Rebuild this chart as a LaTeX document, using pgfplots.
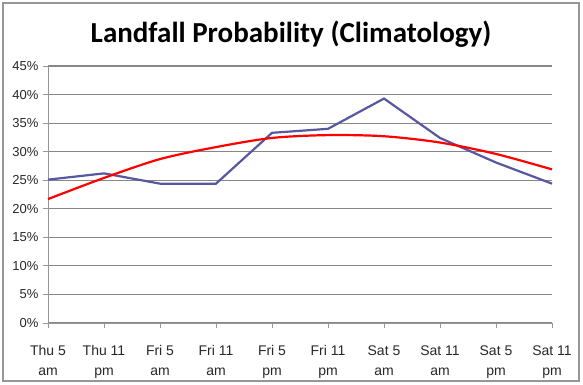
\documentclass[border=0pt]{standalone}
\usepackage{pgfplots}
\pgfplotsset{compat=1.18}
\usepackage{fontspec}
\setmainfont{Liberation Sans}
\newfontfamily\titlefont{Carlito}
\definecolor{blueline}{RGB}{88,88,160}
\definecolor{gridgray}{RGB}{135,135,135}
\definecolor{axisgray}{RGB}{150,150,150}
\definecolor{labelgray}{RGB}{40,40,40}
\begin{document}
\begin{tikzpicture}[x=1bp,y=1bp]
\fill[white] (0,0) rectangle (583,384);
\draw[axisgray, line width=1.2bp] (3,3) rectangle (579,381);
\node[font=\titlefont\bfseries\fontsize{29bp}{33bp}\selectfont] at (291,350) {Landfall Probability (Climatology)};
\begin{axis}[
  at={(48bp,61bp)}, anchor=south west,
  scale only axis, width=504bp, height=257bp,
  xmin=0, xmax=9, ymin=0, ymax=45,
  axis x line=bottom, axis y line=left,
  axis line style={axisgray, line width=1bp, -},
  xtick={0,...,9},
  xticklabels={{Thu 5\\am},{Thu 11\\pm},{Fri 5\\am},{Fri 11\\am},{Fri 5\\pm},{Fri 11\\pm},{Sat 5\\am},{Sat 11\\am},{Sat 5\\pm},{Sat 11\\pm}},
  xticklabel style={align=center, font=\fontsize{14bp}{20bp}\selectfont, text=labelgray, yshift=-14bp},
  ytick={0,5,...,45},
  yticklabel={\pgfmathprintnumber{\tick}\%},
  yticklabel style={font=\fontsize{13bp}{15bp}\selectfont, text=labelgray, xshift=-1bp},
  /pgf/number format/assume math mode=true,
  tick align=outside, major tick length=5bp,
  tick style={axisgray, line width=0.8bp},
  ymajorgrids, grid style={gridgray, line width=1.1bp},
  clip=false,
]
\addplot[blueline, line width=2.2bp] coordinates {
(0,25.1) (1,26.2) (2,24.4) (3,24.4) (4,33.3) (5,34.0) (6,39.3) (7,32.4) (8,28.1) (9,24.4)};
\addplot[red, line width=2.2bp, smooth] coordinates {
(0,21.7) (1,25.4) (2,28.7) (3,30.8) (4,32.4) (5,32.9) (6,32.7) (7,31.6) (8,29.6) (9,26.9)};
\end{axis}
\end{tikzpicture}
\end{document}
